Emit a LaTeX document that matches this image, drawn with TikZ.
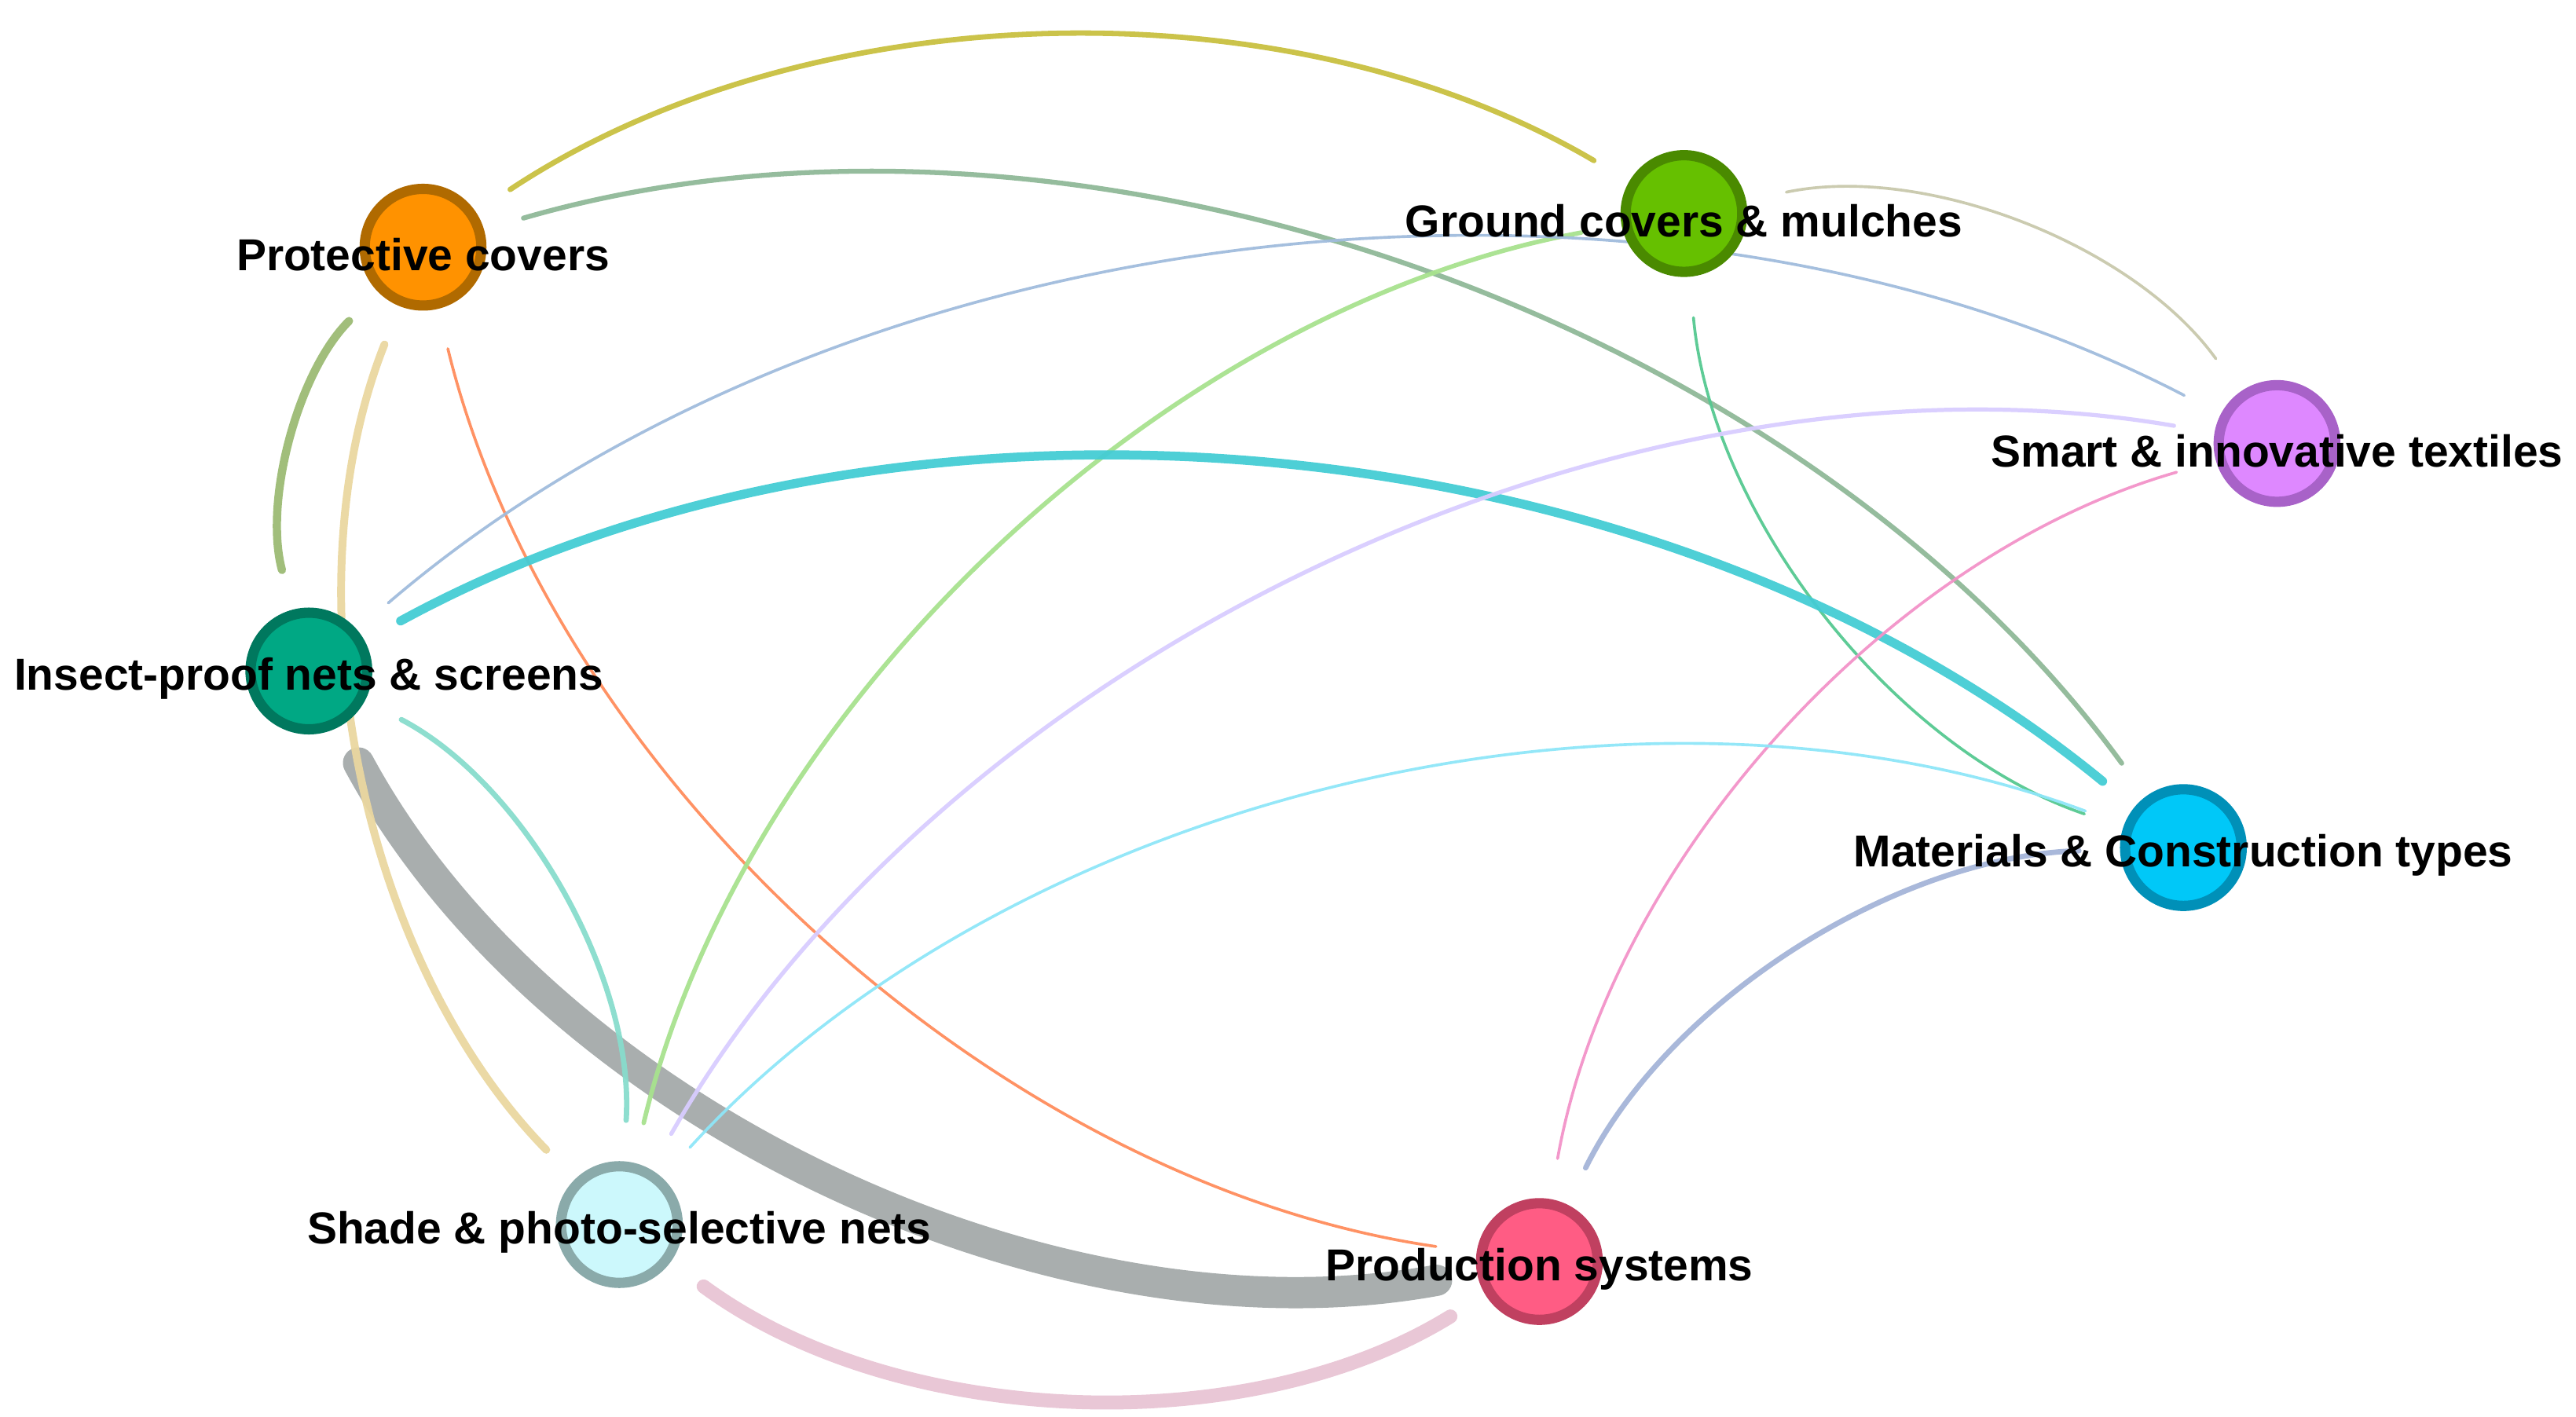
\documentclass[tikz,border=0pt]{standalone}
\usepackage{fontspec}
\setmainfont{Liberation Sans}
\usetikzlibrary{backgrounds}

\definecolor{pcfill}{HTML}{FF9200}\definecolor{pcline}{HTML}{B06A00}
\definecolor{gcfill}{HTML}{66C000}\definecolor{gcline}{HTML}{4A8A00}
\definecolor{sifill}{HTML}{DE88FF}\definecolor{siline}{HTML}{A862C8}
\definecolor{infill}{HTML}{00A884}\definecolor{inline}{HTML}{00785E}
\definecolor{mcfill}{HTML}{00C8F8}\definecolor{mcline}{HTML}{0090B8}
\definecolor{spfill}{HTML}{CCF8FC}\definecolor{spline}{HTML}{8AAAAA}
\definecolor{psfill}{HTML}{FF5C84}\definecolor{psline}{HTML}{C04060}

\tikzset{
	topic/.style={circle, minimum size=1.42cm, inner sep=0pt, line width=0.125cm},
	lbl/.style={font=\fontsize{15.5}{18}\selectfont\bfseries, inner sep=0pt, yshift=-0.09cm},
	link/.style={line cap=round, shorten <=0.5cm, shorten >=0.5cm, looseness=0.88, opacity=0.95}
}

\begin{document}
\begin{tikzpicture}
			%%%%% START %%%%%
			
			\useasboundingbox (0, 0) rectangle (31.36, 17.25);
			
			\node[topic, draw=pcline, fill=pcfill, label={[lbl]center:Protective covers}] (pc) at (5.15, 14.24) {};
			\node[topic, draw=gcline, fill=gcfill, label={[lbl]center:Ground covers \& mulches}] (gc) at (20.50, 14.65) {};
			\node[topic, draw=siline, fill=sifill, label={[lbl]center:Smart \& innovative textiles}] (si) at (27.72, 11.85) {};
			\node[topic, draw=inline, fill=infill, label={[lbl]center:Insect-proof nets \& screens}] (in) at (3.76, 9.08) {};
			\node[topic, draw=mcline, fill=mcfill, label={[lbl]center:Materials \& Construction types}] (mc) at (26.58, 6.93) {};
			\node[topic, draw=spline, fill=spfill, label={[lbl]center:Shade \& photo-selective nets}] (sp) at (7.54, 2.34) {};
			\node[topic, draw=psline, fill=psfill, label={[lbl]center:Production systems}] (ps) at (18.74, 1.89) {};
			
			\begin{pgfonlayer}{background}
			\draw[link, line width=0.38cm, color={rgb,255:red,164;green,170;blue,170}] (in) to[bend right=36] (ps);
			
			\draw[link, line width=0.065cm, color={rgb,255:red,200;green,192;blue,64}] (pc) to[bend left=32] (gc);
			\draw[link, line width=0.06cm, color={rgb,255:red,143;green,184;blue,152}] (pc) to[bend left=35] (mc);
			\draw[link, line width=0.10cm, color={rgb,255:red,156;green,187;blue,116}] (pc) to[bend right=30] (in);
			\draw[link, line width=0.095cm, color={rgb,255:red,234;green,215;blue,160}] (pc) to[bend right=33] (sp);
			\draw[link, line width=0.035cm, color={rgb,255:red,255;green,140;blue,92}] (pc) to[bend right=34] (ps);
			
			\draw[link, line width=0.055cm, color={rgb,255:red,168;green,226;blue,142}] (gc) to[bend right=33] (sp);
			\draw[link, line width=0.035cm, color={rgb,255:red,85;green,200;blue,144}] (gc) to[bend right=33] (mc);
			\draw[link, line width=0.035cm, color={rgb,255:red,200;green,200;blue,172}] (gc) to[bend left=33] (si);
			
			\draw[link, line width=0.035cm, color={rgb,255:red,160;green,188;blue,220}] (in) to[bend left=34] (si);
			\draw[link, line width=0.11cm, color={rgb,255:red,68;green,204;blue,212}] (in) to[bend left=34] (mc);
			\draw[link, line width=0.065cm, color={rgb,255:red,136;green,220;blue,204}] (in) to[bend left=33] (sp);
			
			\draw[link, line width=0.05cm, color={rgb,255:red,216;green,204;blue,255}] (si) to[bend right=35] (sp);
			\draw[link, line width=0.035cm, color={rgb,255:red,242;green,146;blue,200}] (si) to[bend right=32] (ps);
			
			\draw[link, line width=0.035cm, color={rgb,255:red,142;green,230;blue,248}] (sp) to[bend left=34] (mc);
			\draw[link, line width=0.17cm, color={rgb,255:red,232;green,196;blue,212}] (sp) to[bend right=34] (ps);
			\draw[link, line width=0.065cm, color={rgb,255:red,164;green,180;blue,216}] (ps) to[bend left=31] (mc);
			\end{pgfonlayer}
			
			%%%%% END %%%%%
\end{tikzpicture}
\end{document}
